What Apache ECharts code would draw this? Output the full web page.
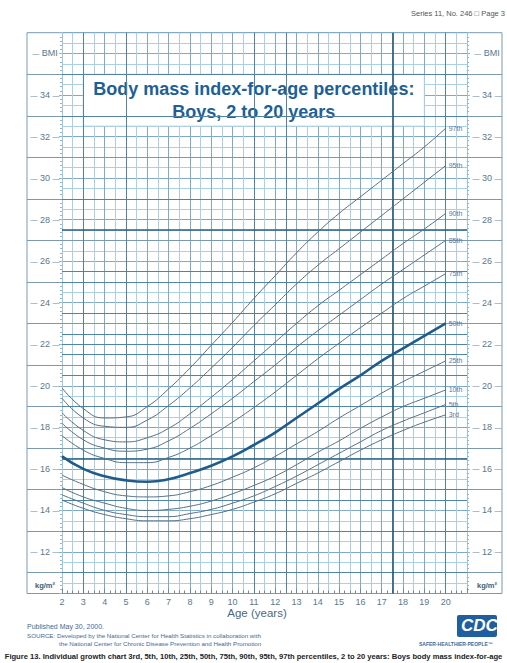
<!DOCTYPE html>
<html><head><meta charset="utf-8">
<script src="https://cdn.jsdelivr.net/npm/echarts@6/dist/echarts.min.js"></script>
<style>html,body{margin:0;padding:0;background:#fff}#c{width:507px;height:663px}</style>
</head><body><div id="c"></div>
<script>
// ---- data ----
const ages = [2,3,4,5,6,7,8,9,10,11,12,13,14,15,16,17,18,19,20];
const p3  = [14.5,14.1,13.8,13.6,13.5,13.5,13.6,13.8,14.05,14.4,14.8,15.3,15.8,16.35,16.9,17.4,17.85,18.25,18.6];
const p5  = [14.75,14.35,14.0,13.8,13.7,13.7,13.85,14.05,14.35,14.7,15.15,15.65,16.2,16.75,17.3,17.85,18.3,18.7,19.1];
const p10 = [15.1,14.65,14.35,14.1,14.0,14.05,14.2,14.45,14.8,15.2,15.65,16.2,16.8,17.35,17.95,18.5,19.0,19.4,19.8];
const p25 = [15.7,15.25,14.9,14.7,14.65,14.7,14.9,15.2,15.6,16.05,16.6,17.2,17.8,18.45,19.05,19.65,20.2,20.7,21.2];
const p50 = [16.6,16.0,15.65,15.45,15.38,15.5,15.8,16.15,16.6,17.15,17.75,18.45,19.15,19.85,20.5,21.2,21.8,22.4,23.0];
const p75 = [17.6,16.9,16.5,16.3,16.3,16.55,17.0,17.6,18.25,18.95,19.7,20.5,21.3,22.05,22.8,23.5,24.2,24.8,25.4];
const p85 = [18.2,17.4,17.0,16.85,16.95,17.35,17.95,18.65,19.4,20.2,21.0,21.85,22.65,23.4,24.15,24.9,25.6,26.3,27.0];
const p90 = [18.7,17.85,17.4,17.3,17.5,17.95,18.65,19.45,20.3,21.2,22.1,23.0,23.85,24.6,25.35,26.1,26.85,27.55,28.3];
const p95 = [19.4,18.45,18.05,18.0,18.35,19.05,19.9,20.85,21.85,22.9,23.9,24.9,25.8,26.6,27.4,28.2,29.0,29.8,30.6];
const p97 = [19.9,18.9,18.45,18.5,19.0,19.85,20.85,21.95,23.05,24.2,25.3,26.4,27.4,28.3,29.1,29.9,30.7,31.5,32.4];
const percentileNames = ['3rd','5th','10th','25th','50th','75th','85th','90th','95th','97th'];
const percentileValues = [p3,p5,p10,p25,p50,p75,p85,p90,p95,p97];
const xTickLabels = [2,3,4,5,6,7,8,9,10,11,12,13,14,15,16,17,18,19,20];
const yTickLabels = [12,14,16,18,20,22,24,26,28,30,32,34];
const frameLines = [11,13,15,17,19,21,23,25,27,29,31,33,35];
const darkH = [11,13,14.5,15,19,20.5,21.5,22,22.5,23.5,25,25.5,29,33,35];
const heavyH = [16.5,27.5];
const darkV = [3,5,11,12.5,20];
const heavyV = [17.5];

const FONT = "'Liberation Sans', Arial, sans-serif";
const chart = echarts.init(document.getElementById('c'), null, {renderer:'svg'});

function yLabel(v){
  if (v === 36) return '{d|—} BMI';
  if (v === 10) return '{u|kg/m²}';
  if (yTickLabels.indexOf(v) >= 0) return '{d|—} ' + v + ' {d|—}';
  return '';
}
const yLabelStyle = {
  show:true, formatter:yLabel, color:'#5b778c', fontSize:9, fontFamily:FONT, align:'center',
  rich:{ d:{fontSize:7, color:'#6f8ba0'}, u:{fontSize:7.5, fontWeight:'bold', color:'#3f5d74', padding:[0,0,16,0]} }
};

const lineSeries = percentileNames.map((nm, k) => ({
  name:nm, type:'line', xAxisIndex:1, yAxisIndex:1,
  data: ages.map((a,i)=>[a, percentileValues[k][i]]),
  smooth:0.5, symbol:'none', silent:true, z:6,
  lineStyle: nm === '50th' ? {color:'#1f5c8c', width:2.6} : {color:'#566f83', width:1},
  endLabel:{show:true, formatter:p=>p.seriesName, fontSize:7, color:'#5b778c', fontFamily:FONT, distance:3}
}));

const option = {
  animation:false,
  backgroundColor:'#fff',
  grid:[
    {left:27, right:5, top:32.7, bottom:69.5, show:true, borderColor:'#7d99ae', borderWidth:1, backgroundColor:'transparent'},
    {left:62, right:40, top:32.7, bottom:69.5}
  ],
  xAxis:[
    {gridIndex:0, type:'value', min:0, max:1, show:false},
    {gridIndex:1, type:'value', min:2, max:21, interval:1, axisLine:{show:false}, axisTick:{show:false}, axisLabel:{show:false},
      splitLine:{show:true, lineStyle:{color:'#7eaac5', width:1}},
      minorTick:{show:false, splitNumber:2}, minorSplitLine:{show:true, lineStyle:{color:'#a9d0e3', width:1}}},
    {gridIndex:1, type:'value', min:2, max:21, interval:1, position:'bottom',
      axisLine:{show:true, lineStyle:{color:'#7d99ae'}},
      axisTick:{show:true, inside:true, length:5, lineStyle:{color:'#6d8aa0'}},
      minorTick:{show:true, splitNumber:4, length:3, lineStyle:{color:'#6d8aa0'}},
      splitLine:{show:false},
      axisLabel:{show:true, margin:4, fontSize:9, color:'#5b778c', fontFamily:FONT,
        formatter:v=> xTickLabels.indexOf(v) >= 0 ? String(v) : ''}}
  ],
  yAxis:[
    {gridIndex:0, type:'value', min:10, max:37, show:false},
    {gridIndex:1, type:'value', min:10, max:37, interval:1, axisLine:{show:false}, axisTick:{show:false}, axisLabel:{show:false},
      splitLine:{show:true, lineStyle:{color:'#7eaac5', width:1}},
      minorTick:{show:false, splitNumber:2}, minorSplitLine:{show:true, lineStyle:{color:'#a9d0e3', width:1}}},
    {gridIndex:1, type:'value', min:10, max:37, interval:1, position:'left',
      axisLine:{show:true, lineStyle:{color:'#9cc6dc'}},
      axisTick:{show:true, length:3, lineStyle:{color:'#8dbad2'}},
      minorTick:{show:true, splitNumber:5, length:2, lineStyle:{color:'#8dbad2'}},
      splitLine:{show:false}, axisLabel:Object.assign({margin:17}, yLabelStyle)},
    {gridIndex:1, type:'value', min:10, max:37, interval:1, position:'right',
      axisLine:{show:true, lineStyle:{color:'#9cc6dc'}},
      axisTick:{show:true, length:3, lineStyle:{color:'#8dbad2'}},
      minorTick:{show:true, splitNumber:5, length:2, lineStyle:{color:'#8dbad2'}},
      splitLine:{show:false}, axisLabel:Object.assign({margin:20}, yLabelStyle)}
  ],
  series:[
    {type:'line', xAxisIndex:0, yAxisIndex:0, data:[], z:1, silent:true,
      markLine:{silent:true, symbol:['none','none'], label:{show:false}, lineStyle:{color:'#7d99ae', type:'solid', width:1},
        data: frameLines.map(v=>({yAxis:v}))}},
    {type:'line', xAxisIndex:1, yAxisIndex:1, data:[], z:2, silent:true,
      markLine:{silent:true, symbol:['none','none'], label:{show:false}, lineStyle:{color:'#4f84a5', type:'solid', width:1},
        data: darkH.map(v=>({yAxis:v})).concat(darkV.map(v=>({xAxis:v})))}},
    {type:'line', xAxisIndex:1, yAxisIndex:1, data:[], z:3, silent:true,
      markLine:{silent:true, symbol:['none','none'], label:{show:false}, lineStyle:{color:'#2b5f80', type:'solid', width:1.7},
        data: heavyH.map(v=>({yAxis:v})).concat(heavyV.map(v=>({xAxis:v})))}},
    {type:'line', xAxisIndex:1, yAxisIndex:1, data:[], z:5, silent:true,
      markArea:{silent:true, itemStyle:{color:'#ffffff', borderColor:'#a6cde0', borderWidth:1},
        label:{show:true, position:'inside', formatter:'Body mass index-for-age percentiles:\nBoys, 2 to 20 years',
          fontSize:18, fontWeight:'bold', color:'#1e5f96', fontFamily:FONT, lineHeight:23, align:'center'},
        data:[[{coord:[3,35]},{coord:[19,32.5]}]]}}
  ].concat(lineSeries),
  graphic:[
    {type:'text', right:2, top:9, style:{text:'Series 11, No. 246 \u25A1 Page 3', fontSize:7.5, fill:'#555', fontFamily:FONT}},
    {type:'text', x:257, y:613, style:{text:'Age (years)', fontSize:11.5, fill:'#4a6a84', fontFamily:FONT, align:'center', verticalAlign:'middle'}},
    {type:'text', left:27, top:623, style:{text:'Published May 30, 2000.', fontSize:7, fill:'#3f6a92', fontFamily:FONT}},
    {type:'text', left:27, top:632, style:{text:'SOURCE: Developed by the National Center for Health Statistics in collaboration with', fontSize:6.2, fill:'#3f6a92', fontFamily:FONT}},
    {type:'text', left:59, top:640, style:{text:'the National Center for Chronic Disease Prevention and Health Promotion', fontSize:6.2, fill:'#3f6a92', fontFamily:FONT}},
    {type:'group', left:457, top:615, children:[
      {type:'rect', shape:{x:0, y:0, width:40, height:22, r:2}, style:{fill:'#1f5fa0'}},
      {type:'text', left:4, top:2, style:{text:'CDC', fontSize:17, fontWeight:'bold', fontStyle:'italic', fill:'#fff', fontFamily:FONT}}
    ]},
    {type:'text', left:419, top:641, style:{text:'SAFER\u00B7HEALTHIER\u00B7PEOPLE\u2122', fontSize:5, fontWeight:'bold', fill:'#3f6a92', fontFamily:FONT}},
    {type:'text', left:'center', top:652, style:{text:'Figure 13. Individual growth chart 3rd, 5th, 10th, 25th, 50th, 75th, 90th, 95th, 97th percentiles, 2 to 20 years: Boys body mass index-for-age', fontSize:7.6, fontWeight:'bold', fill:'#222', fontFamily:FONT}}
  ]
};
chart.setOption(option);
</script></body></html>
